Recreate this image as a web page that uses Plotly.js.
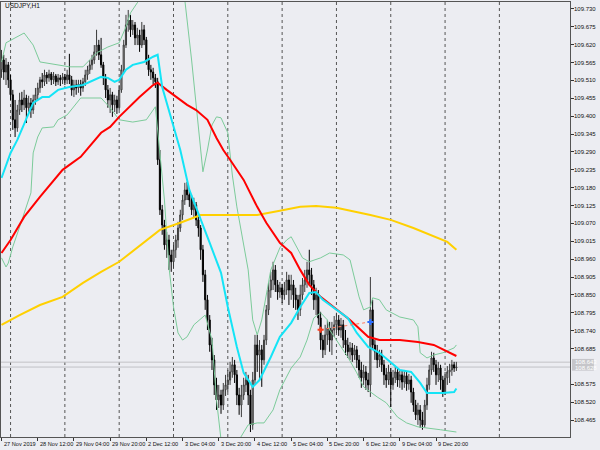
<!DOCTYPE html>
<html><head><meta charset="utf-8">
<script src="https://cdn.plot.ly/plotly-3.0.1.min.js"></script>
<style>html,body{margin:0;padding:0;background:#ecedf2;}#chart{width:600px;height:450px;}</style>
</head><body><div id="chart"></div>
<script>
// USDJPY H1 candles (bar 0 = 27 Nov 2019 20:00)
const O = [
109.543,109.573,109.536,109.558,109.512,109.466,109.389,109.364,109.419,109.450,
109.435,109.456,109.426,109.441,109.419,109.450,109.466,109.487,109.512,109.506,
109.527,109.518,109.530,109.512,109.524,109.506,109.518,109.512,109.521,109.512,
109.527,109.512,109.481,109.496,109.487,109.499,109.487,109.506,109.527,109.543,
109.558,109.573,109.598,109.619,109.589,109.558,109.518,109.481,109.450,109.466,
109.435,109.450,109.426,109.481,109.543,109.619,109.681,109.696,109.666,109.681,
109.641,109.650,109.619,109.666,109.635,109.573,109.543,109.536,109.518,109.506,
109.266,109.112,109.065,109.004,109.019,108.973,108.952,108.989,109.019,109.056,
109.096,109.142,109.173,109.158,109.142,109.112,109.127,109.081,109.056,108.989,
108.912,108.835,108.773,108.696,108.650,108.573,108.527,108.542,108.511,108.558,
108.573,108.588,108.613,108.635,108.604,108.542,108.511,108.542,108.573,108.588,
108.542,108.450,108.588,108.696,108.665,108.681,108.650,108.711,108.804,108.865,
108.896,108.927,108.881,108.859,108.872,108.850,108.865,108.896,108.865,108.881,
108.850,108.835,108.804,108.850,108.881,108.896,108.927,108.912,108.881,108.835,
108.850,108.779,108.711,108.681,108.727,108.748,108.711,108.742,108.758,108.773,
108.742,108.758,108.711,108.696,108.675,108.687,108.665,108.681,108.650,108.619,
108.595,108.613,108.588,108.573,108.804,108.696,108.675,108.650,108.665,108.635,
108.604,108.588,108.613,108.573,108.595,108.613,108.588,108.604,108.582,108.601,
108.576,108.588,108.551,108.511,108.481,108.496,108.465,108.450,108.511,108.573,
108.619,108.656,108.635,108.604,108.625,108.588,108.551,108.595,108.613,108.619,
108.635,108.625];
const H = [
109.604,109.589,109.579,109.567,109.527,109.481,109.450,109.435,109.472,109.475,
109.481,109.466,109.463,109.456,109.466,109.487,109.503,109.521,109.533,109.543,
109.536,109.543,109.536,109.536,109.530,109.530,109.527,109.533,109.530,109.543,
109.592,109.524,109.512,109.512,109.512,109.512,109.518,109.543,109.555,109.573,
109.589,109.619,109.666,109.635,109.641,109.567,109.530,109.496,109.487,109.475,
109.466,109.463,109.496,109.558,109.635,109.712,109.727,109.712,109.696,109.690,
109.672,109.666,109.690,109.681,109.644,109.589,109.558,109.549,109.530,109.518,
109.296,109.127,109.081,109.044,109.035,108.989,109.004,109.035,109.075,109.112,
109.158,109.195,109.198,109.179,109.158,109.149,109.136,109.096,109.065,109.004,
108.927,108.850,108.788,108.718,108.665,108.595,108.573,108.558,108.579,108.604,
108.619,108.644,108.659,108.650,108.619,108.564,108.573,108.595,108.613,108.604,
108.558,108.613,108.727,108.727,108.711,108.696,108.727,108.819,108.887,108.921,
108.952,108.942,108.896,108.890,108.884,108.890,108.921,108.912,108.912,108.896,
108.872,108.850,108.881,108.902,108.927,108.952,108.989,108.933,108.896,108.872,
108.865,108.798,108.727,108.758,108.773,108.767,108.767,108.785,108.795,108.788,
108.779,108.773,108.742,108.718,108.705,108.702,108.696,108.693,108.665,108.644,
108.635,108.631,108.610,108.905,108.835,108.711,108.696,108.681,108.681,108.650,
108.625,108.635,108.625,108.619,108.631,108.625,108.619,108.619,108.619,108.616,
108.607,108.601,108.564,108.527,108.518,108.511,108.490,108.527,108.595,108.635,
108.675,108.672,108.650,108.644,108.635,108.601,108.613,108.631,108.638,108.650,
108.644,108.644];
const L = [
109.518,109.512,109.496,109.487,109.450,109.358,109.336,109.352,109.404,109.413,
109.419,109.379,109.413,109.395,109.407,109.435,109.450,109.472,109.487,109.493,
109.499,109.506,109.496,109.499,109.493,109.496,109.493,109.499,109.496,109.499,
109.499,109.463,109.459,109.466,109.472,109.463,109.475,109.493,109.512,109.530,
109.543,109.561,109.586,109.573,109.549,109.496,109.456,109.426,109.410,109.398,
109.413,109.407,109.419,109.472,109.533,109.610,109.660,109.644,109.650,109.619,
109.619,109.598,109.610,109.619,109.558,109.524,109.512,109.499,109.487,109.250,
109.096,109.035,108.989,108.964,108.927,108.921,108.933,108.964,108.995,109.044,
109.081,109.127,109.142,109.121,109.096,109.087,109.062,109.029,108.958,108.890,
108.804,108.742,108.675,108.619,108.542,108.496,108.502,108.484,108.496,108.539,
108.551,108.573,108.595,108.579,108.511,108.481,108.474,108.527,108.551,108.511,
108.428,108.435,108.573,108.613,108.588,108.567,108.635,108.696,108.788,108.841,
108.865,108.859,108.835,108.841,108.825,108.835,108.850,108.819,108.835,108.810,
108.804,108.773,108.785,108.835,108.859,108.872,108.881,108.850,108.804,108.788,
108.758,108.681,108.656,108.665,108.696,108.675,108.665,108.721,108.733,108.724,
108.718,108.687,108.665,108.656,108.650,108.644,108.650,108.625,108.595,108.564,
108.573,108.558,108.551,108.536,108.681,108.650,108.625,108.628,108.613,108.573,
108.564,108.573,108.505,108.558,108.579,108.567,108.564,108.558,108.564,108.555,
108.558,108.518,108.490,108.465,108.450,108.441,108.435,108.441,108.496,108.558,
108.604,108.613,108.573,108.582,108.558,108.536,108.542,108.573,108.579,108.601,
108.613,108.616];
const C = [
109.573,109.536,109.558,109.512,109.466,109.389,109.364,109.419,109.450,109.435,
109.456,109.426,109.441,109.419,109.450,109.466,109.487,109.512,109.506,109.527,
109.518,109.530,109.512,109.524,109.506,109.518,109.512,109.521,109.512,109.527,
109.512,109.481,109.496,109.487,109.499,109.487,109.506,109.527,109.543,109.558,
109.573,109.598,109.619,109.589,109.558,109.518,109.481,109.450,109.466,109.435,
109.450,109.426,109.481,109.543,109.619,109.681,109.696,109.666,109.681,109.641,
109.650,109.619,109.666,109.635,109.573,109.543,109.536,109.518,109.506,109.266,
109.112,109.065,109.004,109.019,108.973,108.952,108.989,109.019,109.056,109.096,
109.142,109.173,109.158,109.142,109.112,109.127,109.081,109.056,108.989,108.912,
108.835,108.773,108.696,108.650,108.573,108.527,108.542,108.511,108.558,108.573,
108.588,108.613,108.635,108.604,108.542,108.511,108.542,108.573,108.588,108.542,
108.450,108.588,108.696,108.665,108.681,108.650,108.711,108.804,108.865,108.896,
108.927,108.881,108.859,108.872,108.850,108.865,108.896,108.865,108.881,108.850,
108.835,108.804,108.850,108.881,108.896,108.927,108.912,108.881,108.835,108.850,
108.779,108.711,108.681,108.727,108.748,108.711,108.742,108.758,108.773,108.742,
108.758,108.711,108.696,108.675,108.687,108.665,108.681,108.650,108.619,108.595,
108.613,108.588,108.573,108.804,108.696,108.675,108.650,108.665,108.635,108.604,
108.588,108.613,108.573,108.595,108.613,108.588,108.604,108.582,108.601,108.576,
108.588,108.551,108.511,108.481,108.496,108.465,108.450,108.511,108.573,108.619,
108.656,108.635,108.604,108.625,108.588,108.551,108.595,108.613,108.619,108.635,
108.625,108.628];

// Indicator lines (bar index, price)
const cyanIdx = [0,4,7,11,14,18,21,25,30,36,39,44,47,50,52,55,58,63,67,69,71,76,79,83,87,92,97,100,104,107,111,114,119,123,128,132,136,139,142,147,153,157,162,167,172,176,181,185,188,191,195,200,201];
const cyanVal = [109.210,109.287,109.327,109.389,109.441,109.459,109.459,109.481,109.490,109.496,109.506,109.521,109.518,109.506,109.512,109.543,109.558,109.567,109.583,109.589,109.490,109.367,109.296,109.173,109.102,109.010,108.918,108.813,108.690,108.610,108.567,108.588,108.659,108.721,108.764,108.813,108.856,108.859,108.835,108.810,108.779,108.733,108.690,108.672,108.641,108.619,108.613,108.579,108.548,108.548,108.548,108.551,108.562];
const redIdx = [0,4,10,17,27,35,44,48,52,61,67,69,73,78,82,86,91,95,98,101,107,113,117,123,128,132,136,141,147,154,162,167,176,184,191,197,201];
const redVal = [108.979,109.019,109.090,109.152,109.235,109.275,109.349,109.367,109.398,109.459,109.496,109.503,109.481,109.456,109.435,109.419,109.389,109.333,109.296,109.266,109.204,109.121,109.072,109.010,108.979,108.927,108.881,108.844,108.810,108.773,108.721,108.711,108.711,108.705,108.696,108.675,108.662];
const yellowIdx = [0,8,17,27,36,44,52,61,70,79,88,100,113,123,132,139,148,163,172,182,191,197,201];
const yellowVal = [108.758,108.788,108.819,108.844,108.887,108.921,108.952,109.001,109.050,109.072,109.096,109.096,109.096,109.109,109.121,109.124,109.118,109.096,109.081,109.056,109.029,109.013,108.989];
const upperIdx = [0,2,10,14,17,26,30,36,42,47,52,55,57,60,63,66,70,75,78,81,84,86,88,89,91,93,95,97,100,102,104,109,111,113,115,119,123,126,128,131,133,136,141,145,151,154,156,158,160,163,164,167,170,176,182,184,185,188,191,195,200,201];
const upperVal = [109.567,109.626,109.656,109.619,109.567,109.558,109.552,109.552,109.595,109.613,109.626,109.675,109.718,109.749,109.773,109.800,109.900,109.930,109.850,109.758,109.573,109.429,109.296,109.229,109.296,109.373,109.398,109.395,109.349,109.219,109.121,108.927,108.773,108.727,108.773,108.927,108.995,109.019,109.029,108.989,108.964,108.952,108.964,108.979,108.973,108.958,108.896,108.844,108.804,108.813,108.841,108.835,108.804,108.782,108.773,108.752,108.672,108.656,108.665,108.672,108.687,108.696];
const lowerIdx = [0,2,3,5,8,10,13,14,16,18,23,25,29,35,44,48,52,58,64,68,70,72,74,76,78,80,82,85,90,93,95,97,101,105,109,113,116,120,123,128,132,135,138,141,144,145,148,153,157,160,166,170,175,179,184,188,194,201];
const lowerVal = [108.964,108.936,108.948,108.998,109.059,109.102,109.164,109.287,109.336,109.364,109.367,109.389,109.404,109.456,109.456,109.426,109.389,109.382,109.389,109.429,109.296,109.142,108.936,108.813,108.733,108.711,108.721,108.758,108.788,108.711,108.527,108.404,108.373,108.404,108.450,108.456,108.456,108.496,108.558,108.625,108.659,108.711,108.779,108.795,108.773,108.742,108.711,108.659,108.610,108.567,108.536,108.518,108.474,108.456,108.444,108.441,108.435,108.428];

// Trade (open/close) markers
const tradeIdx = [141, 163];
const tradePrice = [108.743, 108.767];

// Bid / ask
const askPrice = 108.643;
const bidPrice = 108.628;

// Axis labels
const tickIdx = [0,16,32,48,64,80,96,112,128,144,160,176,192];
const tickText = ['27 Nov 2019','28 Nov 12:00','29 Nov 04:00','29 Nov 20:00','2 Dec 12:00','3 Dec 04:00','3 Dec 20:00','4 Dec 12:00','5 Dec 04:00','5 Dec 20:00','6 Dec 12:00','9 Dec 04:00','9 Dec 20:00'];
const dayIdx = [4,28,52,76,100,124,148,172,196,220];
const yTicks = [109.730,109.675,109.620,109.565,109.510,109.455,109.400,109.345,109.290,109.235,109.180,109.125,109.070,109.015,108.960,108.905,108.850,108.795,108.740,108.685,108.575,108.520,108.465];

// pick a narrow label font if installed
function textW(font, s){ const c = document.createElement('canvas').getContext('2d'); c.font = font; return c.measureText(s).width; }
const probe = '109.730 27 Nov 2019';
const hasNarrow = Math.abs(textW('20px "Liberation Sans Narrow", monospace', probe) - textW('20px monospace', probe)) > 0.5;
const labFam = hasNarrow ? '"Liberation Sans Narrow", "Liberation Sans", Arial, sans-serif' : '"Liberation Sans", Arial, sans-serif';
const labSize = hasNarrow ? 7 : 6;
const labFont = {family: labFam, size: labSize, color: '#111'};
const xLabFont = {family: labFam, size: hasNarrow ? 6.5 : 5.6, color: '#111'};

const idx = C.map((_, i) => i);
const bbColor = '#7ccb9a';
const traces = [
  {type:'candlestick', x: idx, open:O, high:H, low:L, close:C,
   increasing:{line:{color:'#3a3a3a', width:1}, fillcolor:'#c4c4c4'},
   decreasing:{line:{color:'#000000', width:1}, fillcolor:'#000000'},
   whiskerwidth:0, hoverinfo:'skip', showlegend:false},
  {type:'scatter', mode:'lines', x:upperIdx, y:upperVal, line:{color:bbColor, width:1}, hoverinfo:'skip'},
  {type:'scatter', mode:'lines', x:lowerIdx, y:lowerVal, line:{color:bbColor, width:1}, hoverinfo:'skip'},
  {type:'scatter', mode:'lines', x:yellowIdx, y:yellowVal, line:{color:'#ffd000', width:2}, hoverinfo:'skip'},
  {type:'scatter', mode:'lines', x:redIdx, y:redVal, line:{color:'#ff0000', width:2}, hoverinfo:'skip'},
  {type:'scatter', mode:'lines', x:cyanIdx, y:cyanVal, line:{color:'#14e4f6', width:2}, hoverinfo:'skip'},
  {type:'scatter', mode:'lines+markers', x:tradeIdx, y:tradePrice,
   line:{color:'#ff7a5c', width:1, dash:'dot'},
   marker:{symbol:'cross', size:5, color:['#ff3a1a','#2a6cff']}, hoverinfo:'skip'}
];

const shapes = dayIdx.map(d => ({type:'line', xref:'x', yref:'paper', x0:d, x1:d, y0:0, y1:1,
  line:{color:'#555555', width:1, dash:'dot'}, layer:'below'}));
[askPrice, bidPrice].forEach(p => shapes.push({type:'line', xref:'paper', yref:'y', x0:0, x1:1, y0:p, y1:p,
  line:{color:'#c2c2c6', width:1}, layer:'below'}));
shapes.push({type:'rect', xref:'paper', yref:'y', x0:1.0035, x1:1.042, y0:108.617, y1:108.653,
  fillcolor:'#c6c6ca', line:{width:0}});

const annotations = [
  {text:'USDJPY,H1', xref:'paper', yref:'paper', x:0, xshift:2, y:0.993, xanchor:'left', yanchor:'middle',
   showarrow:false, font:{family:labFam, size:labSize+0.5, color:'#111'}},
  {text:askPrice.toFixed(3), xref:'paper', yref:'y', x:1.006, y:askPrice+0.002, xanchor:'left', yanchor:'middle',
   showarrow:false, font:{family:labFam, size:6, color:'#ffffff'}},
  {text:bidPrice.toFixed(3), xref:'paper', yref:'y', x:1.006, y:bidPrice-0.002, xanchor:'left', yanchor:'middle',
   showarrow:false, font:{family:labFam, size:6, color:'#ffffff'}}
];
tickIdx.forEach((t, k) => annotations.push({text:tickText[k], xref:'x', yref:'paper', x:t, y:0, yshift:-7,
  xshift:1, xanchor:'left', yanchor:'middle', showarrow:false, font:xLabFont, borderpad:0}));
yTicks.forEach(v => annotations.push({text:v.toFixed(3), xref:'paper', yref:'y', x:1, y:v, xshift:3,
  xanchor:'left', yanchor:'middle', showarrow:false, font:labFont, borderpad:0}));

const layout = {
  width:600, height:450,
  margin:{l:1, r:30, t:2, b:13, pad:0},
  paper_bgcolor:'#ecedf2', plot_bgcolor:'#ecedf2',
  showlegend:false,
  xaxis:{range:[-0.22, 251.2], tickvals:tickIdx, showticklabels:false, ticks:'outside', ticklen:3,
    tickcolor:'#333', showgrid:false, zeroline:false, showline:true, linecolor:'#555', mirror:true,
    rangeslider:{visible:false}, fixedrange:true},
  yaxis:{side:'right', range:[108.4127, 109.7515], tickvals:yTicks, showticklabels:false, ticks:'outside',
    ticklen:3, tickcolor:'#333', showgrid:false, zeroline:false, showline:true, linecolor:'#555',
    mirror:true, fixedrange:true},
  shapes: shapes,
  annotations: annotations
};
Plotly.newPlot('chart', traces, layout, {staticPlot:true, displayModeBar:false});
</script>
</body></html>
